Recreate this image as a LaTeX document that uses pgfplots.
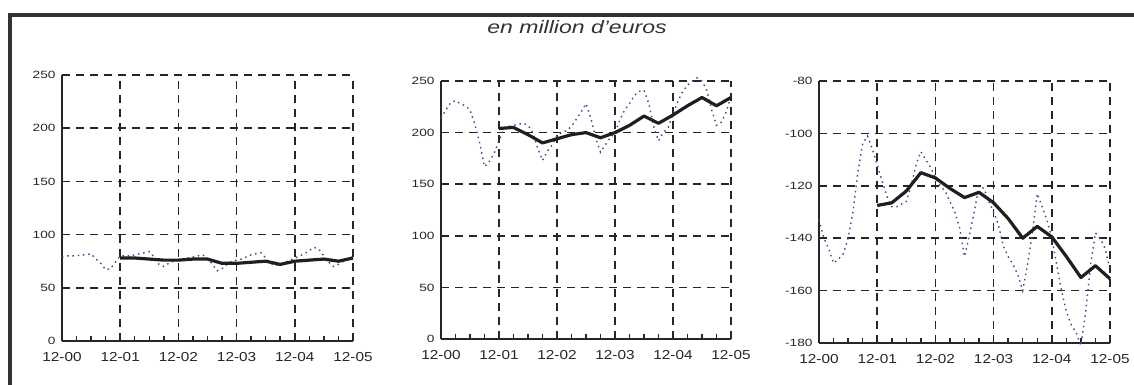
\documentclass[border=0pt]{standalone}
\usepackage{pgfplots}
\pgfplotsset{compat=1.18}
\usepackage{graphicx}
\usepackage{fontspec}
\setmainfont{Liberation Sans}
\definecolor{dotblue}{RGB}{40,40,125}
\definecolor{frame}{RGB}{50,50,50}

\pgfplotstableread{
m v
0 79
1 80
2 80
3 80
4 81
5 81
6 82
7 77
8 73
9 67
10 68
11 74
12 80
13 80
14 80
15 81
16 82
17 83
18 84
19 79
20 72
21 70
22 73
23 75
24 76
25 77
26 78
27 79
28 80
29 81
30 78
31 72
32 66
33 68
34 72
35 75
36 76
37 77
38 79
39 81
40 82
41 83
42 78
43 73
44 71
45 72
46 74
47 76
48 78
49 80
50 82
51 85
52 88
53 86
54 80
55 74
56 70
57 72
58 75
59 78
60 79
}\dA
\pgfplotstableread{
m v
12 78
15 78
18 77
21 76
24 76
27 77
30 77
33 73
36 73
39 74
42 75
45 72
48 75
51 76
54 77
57 75
60 78
}\mA
\pgfplotstableread{
m v
0 214
1 222
2 229
3 231
4 228
5 226
6 222
7 208
8 190
9 167
10 172
11 180
12 192
13 204
14 206
15 207
16 208
17 209
18 207
19 200
20 185
21 173
22 182
23 188
24 197
25 200
26 202
27 206
28 213
29 220
30 228
31 214
32 195
33 181
34 188
35 195
36 200
37 212
38 222
39 228
40 236
41 240
42 241
43 228
44 206
45 192
46 200
47 205
48 218
49 230
50 240
51 246
52 250
53 253
54 250
55 241
56 222
57 207
58 210
59 220
60 235
}\dB
\pgfplotstableread{
m v
12 204
15 205
18 198
21 190
24 194
27 198
30 200
33 195
36 200
39 207
42 216
45 209
48 217
51 226
54 234
57 226
60 234
}\mB
\pgfplotstableread{
m v
0 -133
1 -140
2 -144
3 -149.5
4 -148
5 -146
6 -140
7 -130
8 -115
9 -104
10 -101
11 -106
12 -112
13 -118
14 -124
15 -128
16 -128
17 -127
18 -126
19 -120
20 -112
21 -107
22 -110
23 -113
24 -117
25 -120
26 -122
27 -126
28 -130
29 -136
30 -147
31 -139
32 -130
33 -120
34 -121
35 -126
36 -130
37 -135
38 -143
39 -147
40 -150
41 -154
42 -160
43 -150
44 -138
45 -123
46 -128
47 -133
48 -140
49 -150
50 -160
51 -168
52 -173
53 -176
54 -181
55 -168
56 -150
57 -138
58 -140
59 -144
60 -152
}\dC
\pgfplotstableread{
m v
12 -127.5
15 -126.5
18 -122
21 -115
24 -117
27 -121
30 -124.5
33 -122.5
36 -126.5
39 -132.5
42 -140
45 -135.5
48 -139.5
51 -147
54 -155
57 -150.5
60 -155.5
}\mC

\newcommand{\xl}[1]{\scalebox{1.18}[1]{#1}}
\pgfplotsset{
  panel/.style={
    anchor=south west, scale only axis,
    xmin=0, xmax=60,
    axis x line=bottom, axis y line=left,
    axis line style={-, line width=1.8pt, black!85},
    xtick={0,12,24,36,48,60},
    xticklabels={\xl{12-00},\xl{12-01},\xl{12-02},\xl{12-03},\xl{12-04},\xl{12-05}},
    minor xtick={3,6,9,15,18,21,27,30,33,39,42,45,51,54,57},
    grid=major,
    major grid style={black!85, line width=1.5pt, dash pattern=on 8pt off 6pt},
    tick align=inside,
    major tick length=7pt, minor tick length=5pt,
    every tick/.style={black!85, line width=1.5pt},
    /pgf/number format/assume math mode=true,
    yticklabel={\scalebox{1.3}[1]{\pgfmathprintnumber{\tick}}},
    xticklabel style={font=\fontsize{13}{15}\selectfont, yshift=-8pt, text=black!85},
    yticklabel style={font=\fontsize{10.5}{12}\selectfont, xshift=-3pt, text=black!85},
    clip=false,
  },
  dotline/.style={dotblue!85, line width=1.4pt, dash pattern=on 1.5pt off 3.8pt},
  mline/.style={black!88, line width=3.2pt, line join=round},
}

\begin{document}
\begin{tikzpicture}
\useasboundingbox (0pt,0pt) rectangle (1134pt,385pt);
\fill[white] (0pt,0pt) rectangle (1134pt,385pt);
\draw[frame, line width=4pt] (10pt,370pt) rectangle (1160pt,-30pt);
\node[font=\fontsize{18}{20}\selectfont\itshape, xscale=1.28, text=black!80] at (577pt,358pt) {en million d'euros};

\begin{axis}[panel, at={(62pt,44pt)}, width=291pt, height=266pt,
  ymin=0, ymax=250, ytick={0,50,100,150,200,250}]
\addplot[dotline] table[x=m,y=v] {\dA};
\addplot[mline] table[x=m,y=v] {\mA};
\end{axis}

\begin{axis}[panel, at={(441pt,46pt)}, width=290pt, height=258pt,
  ymin=0, ymax=250, ytick={0,50,100,150,200,250}]
\addplot[dotline] table[x=m,y=v] {\dB};
\addplot[mline] table[x=m,y=v] {\mB};
\end{axis}

\begin{axis}[panel, at={(819pt,42pt)}, width=291pt, height=262pt,
  ymin=-180, ymax=-80, ytick={-180,-160,-140,-120,-100,-80}]
\addplot[dotline] table[x=m,y=v] {\dC};
\addplot[mline] table[x=m,y=v] {\mC};
\end{axis}
\end{tikzpicture}
\end{document}
